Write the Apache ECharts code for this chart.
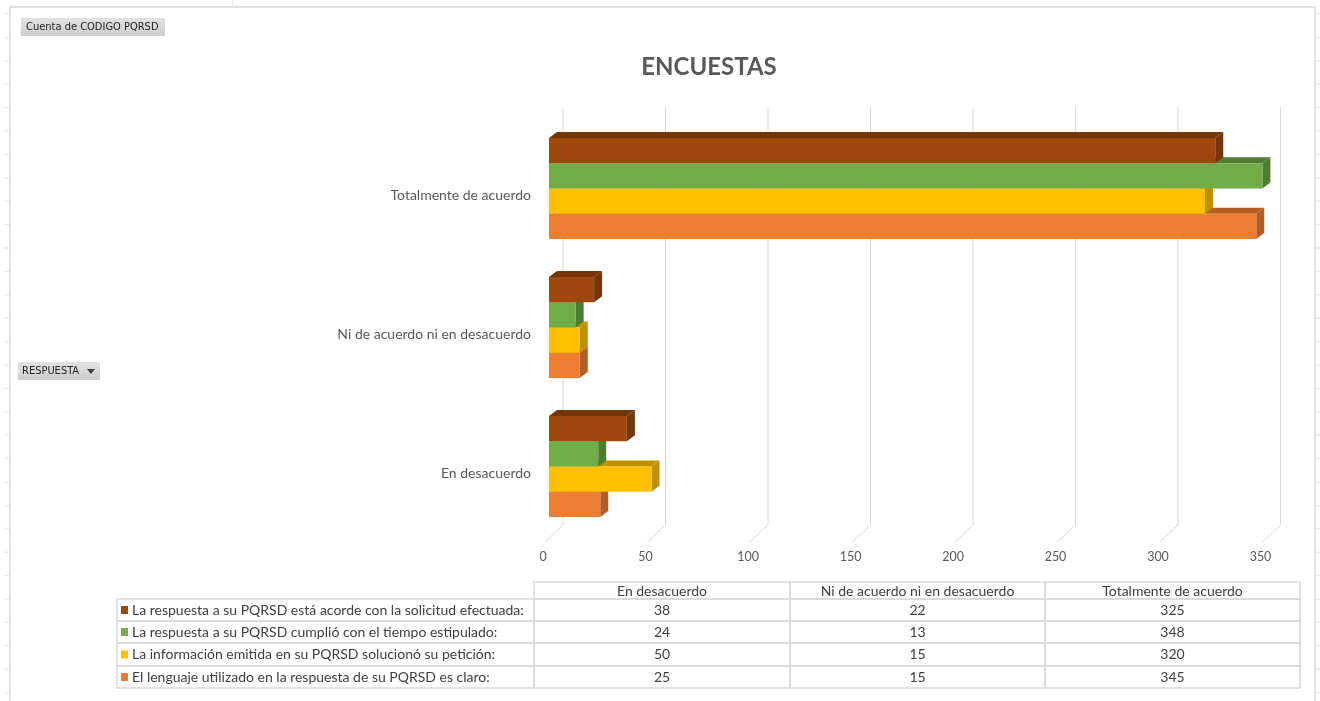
<!DOCTYPE html>
<html>
<head>
<meta charset="utf-8">
<script src="https://cdn.jsdelivr.net/npm/echarts@6/dist/echarts.min.js"></script>
<style>
html,body{margin:0;padding:0;background:#fff;}
#chart{width:1320px;height:701px;}
</style>
</head>
<body>
<div id="chart"></div>
<script>
// ---- data ----
const categories = ['En desacuerdo', 'Ni de acuerdo ni en desacuerdo', 'Totalmente de acuerdo'];
const seriesNames = [
  'La respuesta a su PQRSD está acorde con la solicitud efectuada:',
  'La respuesta a su PQRSD cumplió con el tiempo estipulado:',
  'La información emitida en su PQRSD solucionó su petición:',
  'El lenguaje utilizado en la respuesta de su PQRSD es claro:'
];
const acordeValues = [38, 22, 325];
const tiempoValues = [24, 13, 348];
const solucionValues = [50, 15, 320];
const lenguajeValues = [25, 15, 345];
const xTicks = [0, 50, 100, 150, 200, 250, 300, 350];
const titleText = 'ENCUESTAS';
const filterText = 'Cuenta de CODIGO PQRSD';
const axisFieldText = 'RESPUESTA';

// ---- styles ----
const seriesValues = [acordeValues, tiempoValues, solucionValues, lenguajeValues];
const frontColors = ['#9E480E', '#70AD47', '#FFC000', '#ED7D31'];
const sideColors = ['#763509', '#4E7D30', '#BF9000', '#B55C22'];
const FONT = 'Lato, "Noto Sans", sans-serif';
const DX = 8, DY = -6;

const chart = echarts.init(document.getElementById('chart'));

function barRender(sIdx) {
  return function (params, api) {
    const v = api.value(0), c = api.value(1);
    const base = api.coord([0, c]);
    const end = api.coord([v, c]);
    const band = api.size([0, 1])[1];
    const barH = band * 0.182;
    const yTop = base[1] - barH * 2 + sIdx * barH;
    const x0 = base[0], x1 = end[0];
    return {
      type: 'group',
      children: [
        { type: 'polygon', shape: { points: [[x0, yTop], [x0 + DX, yTop + DY], [x1 + DX, yTop + DY], [x1, yTop]] },
          style: { fill: sideColors[sIdx] } },
        { type: 'polygon', shape: { points: [[x1, yTop], [x1 + DX, yTop + DY], [x1 + DX, yTop + DY + barH], [x1, yTop + barH]] },
          style: { fill: sideColors[sIdx] } },
        { type: 'rect', shape: { x: x0, y: yTop, width: x1 - x0, height: barH },
          style: { fill: frontColors[sIdx] } }
      ]
    };
  };
}

function gridRender(params, api) {
  const v = api.value(0);
  const p = api.coord([v, 0]);
  const cs = params.coordSys;
  const top = cs.y - 12;
  const bottom = cs.y + cs.height - 11;
  return {
    type: 'group',
    children: [
      { type: 'polyline', shape: { points: [[p[0] + 14, top], [p[0] + 14, bottom], [p[0] - 4, bottom + 17]] },
        style: { stroke: '#D9D9D9', lineWidth: 1, fill: null } },
      { type: 'text', style: { x: p[0] - 6, y: bottom + 32, text: String(v), textAlign: 'center', textVerticalAlign: 'middle',
          fill: '#595959', font: '12.5px ' + FONT } }
    ]
  };
}

function catLabelRender(params, api) {
  const c = api.value(1);
  const p = api.coord([0, c]);
  return {
    type: 'text',
    style: { x: p[0] - 18, y: p[1] + 7, text: categories[c], textAlign: 'right', textVerticalAlign: 'middle',
      fill: '#595959', font: '14px ' + FONT }
  };
}

const series = [{
  type: 'custom', name: 'grid', renderItem: gridRender, z: 1,
  data: xTicks.map(t => [t, 0]), encode: { x: 0, y: 1 }, silent: true
}, {
  type: 'custom', name: 'catLabels', renderItem: catLabelRender, z: 1,
  data: categories.map((c, i) => [0, i]), encode: { x: 0, y: 1 }, silent: true
}];
seriesValues.forEach((vals, i) => {
  series.push({
    type: 'custom', name: seriesNames[i], renderItem: barRender(i), z: 10 - i,
    data: vals.map((v, c) => [v, c]), encode: { x: 0, y: 1 }
  });
});

// ---- data table (graphic) ----
const graphic = [];
const colX = [117, 534, 790, 1045, 1300];
const rowY = [582, 599, 621, 643, 666, 688];
const lineColor = '#D9D9D9';
const TFONT = '14px ' + FONT;
for (let j = 0; j < categories.length; j++) {
  graphic.push({ type: 'rect', shape: { x: colX[j + 1], y: rowY[0], width: colX[j + 2] - colX[j + 1], height: rowY[1] - rowY[0] },
    style: { fill: 'none', stroke: lineColor, lineWidth: 1.5 } });
  graphic.push({ type: 'text', x: (colX[j + 1] + colX[j + 2]) / 2, y: (rowY[0] + rowY[1]) / 2 + 1,
    style: { text: categories[j], align: 'center', verticalAlign: 'middle', fill: '#404040', font: TFONT } });
}
for (let i = 0; i < seriesNames.length; i++) {
  const y0 = rowY[i + 1], y1 = rowY[i + 2];
  graphic.push({ type: 'rect', shape: { x: colX[0], y: y0, width: colX[1] - colX[0], height: y1 - y0 },
    style: { fill: 'none', stroke: lineColor, lineWidth: 1.5 } });
  graphic.push({ type: 'rect', shape: { x: colX[0] + 4, y: (y0 + y1) / 2 - 4, width: 7, height: 8 },
    style: { fill: frontColors[i] } });
  graphic.push({ type: 'text', x: colX[0] + 15, y: (y0 + y1) / 2,
    style: { text: seriesNames[i], align: 'left', verticalAlign: 'middle', fill: '#404040', font: TFONT } });
  for (let j = 0; j < categories.length; j++) {
    graphic.push({ type: 'rect', shape: { x: colX[j + 1], y: y0, width: colX[j + 2] - colX[j + 1], height: y1 - y0 },
      style: { fill: 'none', stroke: lineColor, lineWidth: 1.5 } });
    graphic.push({ type: 'text', x: (colX[j + 1] + colX[j + 2]) / 2, y: (y0 + y1) / 2,
      style: { text: String(seriesValues[i][j]), align: 'center', verticalAlign: 'middle', fill: '#404040', font: TFONT } });
  }
}
// title
graphic.push({ type: 'text', x: 709, y: 67,
  style: { text: titleText, align: 'center', verticalAlign: 'middle', fill: '#595959', font: 'bold 24px ' + FONT } });
// outer chart border
graphic.push({ type: 'polyline', shape: { points: [[10, 701], [10, 7], [1315, 7], [1315, 701]] },
  style: { stroke: '#D9D9D9', lineWidth: 1.5, fill: null } });
// spreadsheet row ticks outside border
for (let k = 0; k < 30; k++) {
  const ty = 14 + k * 23.4;
  if (ty > 700) break;
  graphic.push({ type: 'line', shape: { x1: 4, y1: ty, x2: 10, y2: ty }, style: { stroke: '#E3E3E3', lineWidth: 1 } });
  graphic.push({ type: 'line', shape: { x1: 1315, y1: ty, x2: 1320, y2: ty }, style: { stroke: '#E3E3E3', lineWidth: 1 } });
}
graphic.push({ type: 'line', shape: { x1: 233, y1: 0, x2: 233, y2: 7 }, style: { stroke: '#E3E3E3', lineWidth: 1 } });
// pivot field buttons
graphic.push({ type: 'rect', shape: { x: 21, y: 18, width: 144, height: 18 },
  style: { fill: new echarts.graphic.LinearGradient(0, 0, 0, 1, [{ offset: 0, color: '#E2E2E2' }, { offset: 1, color: '#CDCDCD' }]) } });
graphic.push({ type: 'text', x: 26, y: 27,
  style: { text: filterText, align: 'left', verticalAlign: 'middle', fill: '#262626', font: '11px "Liberation Sans Narrow", "DejaVu Sans Condensed", sans-serif' } });
graphic.push({ type: 'rect', shape: { x: 18, y: 362, width: 82, height: 18 },
  style: { fill: new echarts.graphic.LinearGradient(0, 0, 0, 1, [{ offset: 0, color: '#E2E2E2' }, { offset: 1, color: '#CDCDCD' }]) } });
graphic.push({ type: 'text', x: 22, y: 371,
  style: { text: axisFieldText, align: 'left', verticalAlign: 'middle', fill: '#262626', font: '11px "Liberation Sans Narrow", "DejaVu Sans Condensed", sans-serif' } });
graphic.push({ type: 'polygon', shape: { points: [[87, 369], [95, 369], [91, 374]] }, style: { fill: '#404040' } });

chart.setOption({
  backgroundColor: '#ffffff',
  animation: false,
  grid: { left: 549, right: 53.5, top: 119, bottom: 165, containLabel: false },
  xAxis: { type: 'value', min: 0, max: 350, interval: 50, show: false },
  yAxis: {
    type: 'category', data: categories,
    axisLine: { show: false }, axisTick: { show: false }, splitLine: { show: false },
    axisLabel: { show: false }
  },
  graphic: graphic,
  series: series
});
</script>
</body>
</html>
